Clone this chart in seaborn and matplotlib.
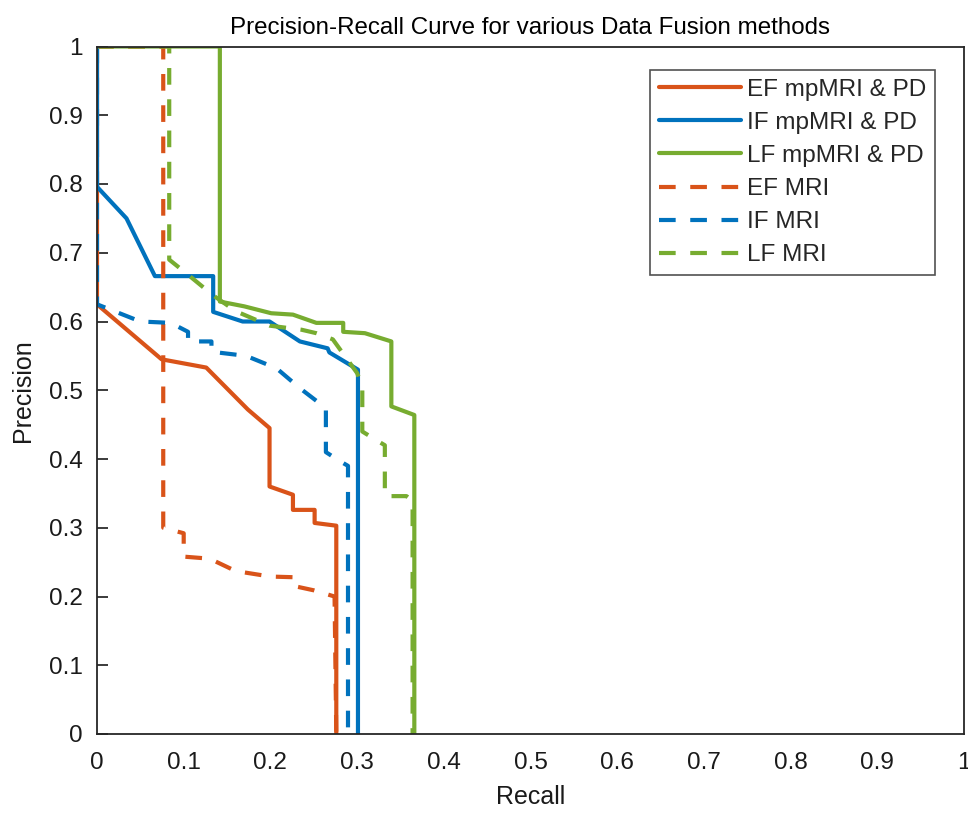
import numpy as np
import pandas as pd
import matplotlib
matplotlib.use("Agg")
import matplotlib.pyplot as plt
import seaborn as sns
from matplotlib.lines import Line2D

# ---- data ----
series_names = ["EF mpMRI & PD", "IF mpMRI & PD", "LF mpMRI & PD", "EF MRI", "IF MRI", "LF MRI"]

ef_full_recall = [0, 0, 0.0745, 0.126, 0.174, 0.199, 0.199, 0.226, 0.226, 0.251, 0.251, 0.276, 0.276]
ef_full_prec = [1, 0.625, 0.545, 0.533, 0.472, 0.445, 0.360, 0.348, 0.326, 0.326, 0.307, 0.303, 0]

if_full_recall = [0, 0, 0.034, 0.0668, 0.134, 0.134, 0.168, 0.199, 0.234, 0.266, 0.268, 0.301, 0.301]
if_full_prec = [1, 0.796, 0.750, 0.666, 0.666, 0.614, 0.600, 0.600, 0.571, 0.561, 0.555, 0.530, 0]

lf_full_recall = [0, 0.1417, 0.1417, 0.170, 0.201, 0.226, 0.253, 0.284, 0.284, 0.309, 0.3395, 0.3395, 0.366, 0.366]
lf_full_prec = [1, 1, 0.629, 0.622, 0.612, 0.610, 0.598, 0.598, 0.585, 0.583, 0.571, 0.4765, 0.464, 0]

ef_mri_recall = [0, 0.0764, 0.0764, 0.100, 0.100, 0.130, 0.160, 0.200, 0.228, 0.228, 0.250, 0.274, 0.276]
ef_mri_prec = [1, 1, 0.300, 0.292, 0.258, 0.255, 0.237, 0.229, 0.228, 0.215, 0.209, 0.200, 0]

if_mri_recall = [0, 0, 0.050, 0.085, 0.105, 0.105, 0.132, 0.132, 0.172, 0.207, 0.234, 0.264, 0.264, 0.280, 0.2895, 0.2895]
if_mri_prec = [1, 0.625, 0.600, 0.598, 0.585, 0.571, 0.571, 0.556, 0.550, 0.532, 0.503, 0.474, 0.410, 0.397, 0.390, 0]

lf_mri_recall = [0, 0.0833, 0.0833, 0.105, 0.134, 0.160, 0.199, 0.236, 0.253, 0.272, 0.300, 0.306, 0.306, 0.324, 0.332, 0.332, 0.357, 0.364, 0.364]
lf_mri_prec = [1, 1, 0.690, 0.668, 0.638, 0.615, 0.594, 0.588, 0.583, 0.574, 0.525, 0.505, 0.440, 0.426, 0.420, 0.346, 0.346, 0.339, 0]

tick_values = [0, 0.1, 0.2, 0.3, 0.4, 0.5, 0.6, 0.7, 0.8, 0.9, 1]
tick_labels = ["0", "0.1", "0.2", "0.3", "0.4", "0.5", "0.6", "0.7", "0.8", "0.9", "1"]

title_text = "Precision-Recall Curve for various Data Fusion methods"

# ---- styling ----
orange, blue, green = "#D95319", "#0072BD", "#77AC30"
palette = {series_names[0]: orange, series_names[1]: blue, series_names[2]: green,
           series_names[3]: orange, series_names[4]: blue, series_names[5]: green}
dash_pat = (4, 3.5)
dashes = {series_names[0]: "", series_names[1]: "", series_names[2]: "",
          series_names[3]: dash_pat, series_names[4]: dash_pat, series_names[5]: dash_pat}

frames = []
all_x = [ef_full_recall, if_full_recall, lf_full_recall, ef_mri_recall, if_mri_recall, lf_mri_recall]
all_y = [ef_full_prec, if_full_prec, lf_full_prec, ef_mri_prec, if_mri_prec, lf_mri_prec]
for name, xs, ys in zip(series_names, all_x, all_y):
    frames.append(pd.DataFrame({"Recall": xs, "Precision": ys, "Method": name,
                                "order": np.arange(len(xs))}))
df = pd.concat(frames, ignore_index=True)

sns.set_theme(style="white")
plt.rcParams["font.family"] = ["Liberation Sans", "DejaVu Sans"]

fig = plt.figure(figsize=(9.68, 8.14), dpi=100)
ax = fig.add_axes([97 / 968, 1 - 734 / 814, (964 - 97) / 968, (734 - 46.5) / 814])

sns.lineplot(data=df, x="Recall", y="Precision", hue="Method", style="Method",
             palette=palette, dashes=dashes, sort=False, estimator=None,
             linewidth=3, ax=ax, legend=False)
for line in ax.get_lines():
    line.set_solid_capstyle("butt")
    line.set_dash_capstyle("butt")

ax.set_xlim(0, 1)
ax.set_ylim(0, 1)
ax.set_xticks(tick_values)
ax.set_xticklabels(tick_labels)
ax.set_yticks(tick_values)
ax.set_yticklabels(tick_labels)
ax.tick_params(axis="x", length=0, labelsize=17.5, pad=13, colors="#1a1a1a")
ax.tick_params(axis="y", direction="in", length=8, width=1.2, labelsize=17.5, pad=10,
               left=True, colors="#1a1a1a")
for s in ax.spines.values():
    s.set_visible(True)
    s.set_color("#262626")
    s.set_linewidth(1.3)

ax.set_xlabel("Recall", fontsize=18, labelpad=8, color="#1a1a1a")
ax.set_ylabel("Precision", fontsize=18, labelpad=10, color="#1a1a1a")
ax.set_title(title_text, fontsize=17.4, pad=9, color="black")

handles = [Line2D([0], [0], color=palette[n], lw=3,
                  linestyle="-" if dashes[n] == "" else (0, dash_pat)) for n in series_names]
leg = ax.legend(handles, series_names, loc="upper left",
                bbox_to_anchor=((650 - 97) / 867, (734 - 70) / 687.5),
                fontsize=17.5, frameon=True, fancybox=False, edgecolor="#262626",
                handlelength=3.4, handletextpad=0.25, labelspacing=0.46, borderpad=0.35,
                borderaxespad=0)
leg.get_frame().set_linewidth(1.2)

fig.savefig("out.png", dpi=100, facecolor="white")
